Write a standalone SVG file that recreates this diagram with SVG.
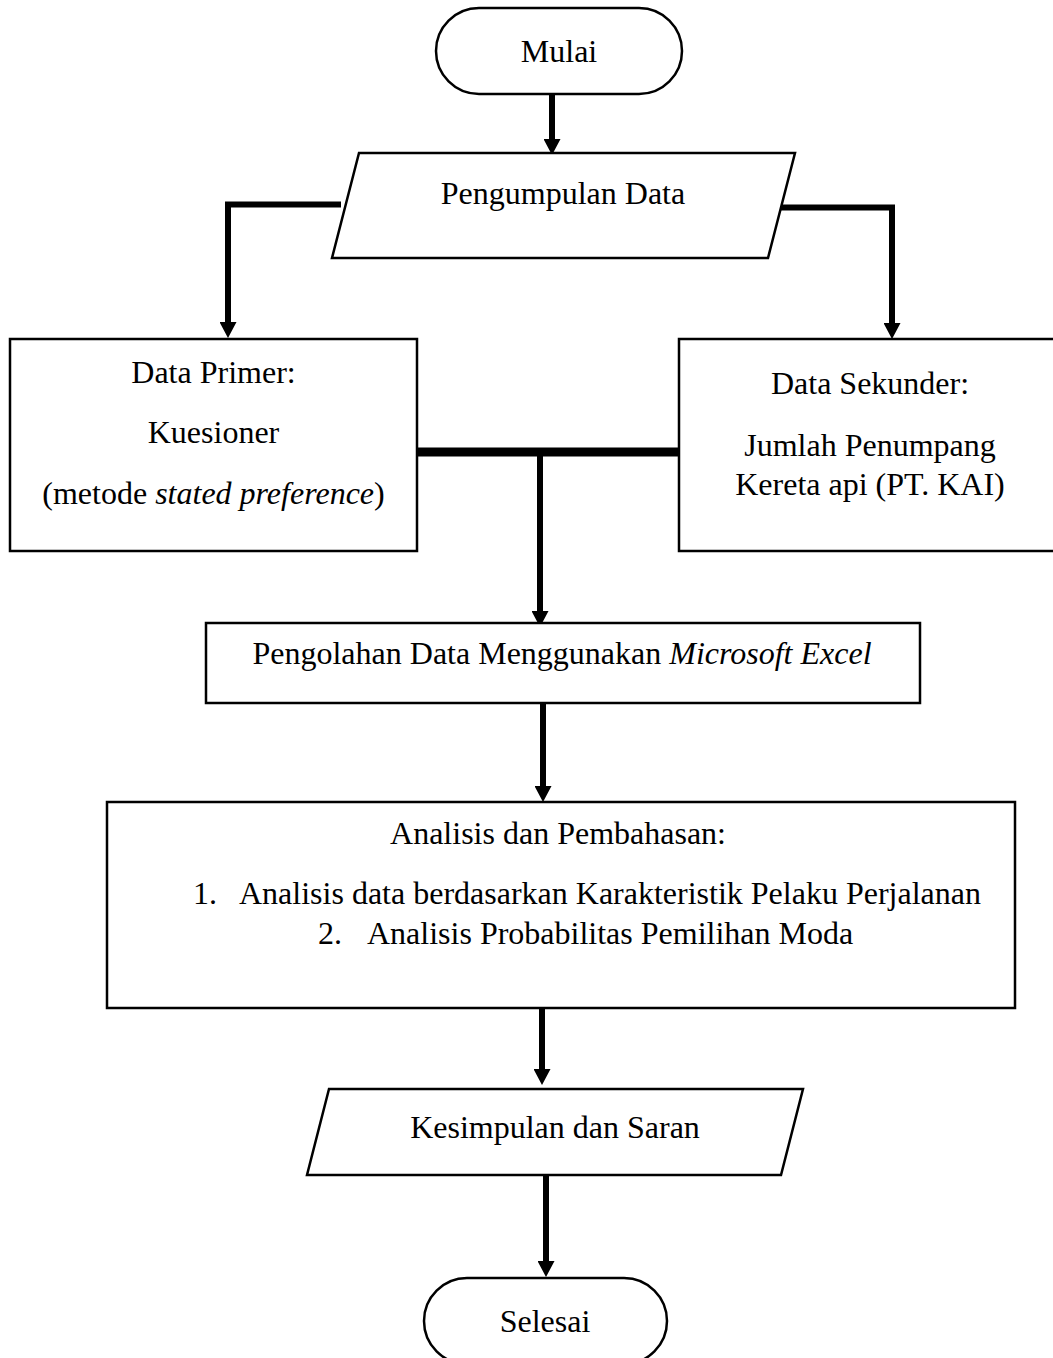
<svg xmlns="http://www.w3.org/2000/svg" width="1053" height="1358" viewBox="0 0 1053 1358">
<defs>
<style>
.box{fill:#fff;stroke:#000;stroke-width:2.5}
.t{font-family:"Liberation Serif","Times New Roman",serif;font-size:32px;fill:#000}
.m{text-anchor:middle}
.conn{fill:none;stroke:#000;stroke-width:6;stroke-linejoin:miter}
.bus{fill:none;stroke:#000;stroke-width:9}
</style>
<marker id="ah" viewBox="0 0 16 17" markerWidth="16" markerHeight="17" refX="2" refY="8.5" orient="auto" markerUnits="userSpaceOnUse">
<path d="M0,0 L16,8.5 L0,17 z" fill="#000"/>
</marker>
</defs>
<rect width="1053" height="1358" fill="#fff"/>

<g id="connectors">
<path class="conn" d="M552,94 V141" marker-end="url(#ah)"/>
<path class="conn" d="M341,204.5 H228 V324" marker-end="url(#ah)"/>
<path class="conn" d="M777,207.5 H892 V325" marker-end="url(#ah)"/>
<path class="bus" d="M417,452 H679"/>
<path class="conn" d="M540,452 V613" marker-end="url(#ah)"/>
<path class="conn" d="M543,697 V788" marker-end="url(#ah)"/>
<path class="conn" d="M542,1007 V1071" marker-end="url(#ah)"/>
<path class="conn" d="M546,1173 V1263" marker-end="url(#ah)"/>
</g>

<g id="mulai">
<rect class="box" x="436" y="8" width="246" height="86" rx="43" ry="43"/>
<text class="t m" x="559" y="62">Mulai</text>
</g>

<g id="pengumpulan">
<polygon class="box" points="359,153 795,153 768,258 332,258"/>
<text class="t m" x="563" y="204">Pengumpulan Data</text>
</g>

<g id="primer">
<rect class="box" x="10" y="339" width="407" height="212"/>
<text class="t m" x="213.5" y="383">Data Primer:</text>
<text class="t m" x="213.5" y="443">Kuesioner</text>
<text class="t m" x="213.5" y="504">(metode <tspan font-style="italic">stated preference</tspan>)</text>
</g>

<g id="sekunder">
<rect class="box" x="679" y="339" width="390" height="212"/>
<text class="t m" x="870" y="394">Data Sekunder:</text>
<text class="t m" x="870" y="456">Jumlah Penumpang</text>
<text class="t m" x="870" y="495">Kereta api (PT. KAI)</text>
</g>

<g id="pengolahan">
<rect class="box" x="206" y="623" width="714" height="80"/>
<text class="t m" x="562" y="664">Pengolahan Data Menggunakan <tspan font-style="italic">Microsoft Excel</tspan></text>
</g>

<g id="analisis">
<rect class="box" x="107" y="802" width="908" height="206"/>
<text class="t m" x="558" y="844">Analisis dan Pembahasan:</text>
<text class="t" x="193" y="904">1.</text>
<text class="t" x="239" y="904">Analisis data berdasarkan Karakteristik Pelaku Perjalanan</text>
<text class="t" x="318" y="944">2.</text>
<text class="t" x="367" y="944">Analisis Probabilitas Pemilihan Moda</text>
</g>

<g id="kesimpulan">
<polygon class="box" points="329,1089 803,1089 781,1175 307,1175"/>
<text class="t m" x="555" y="1138">Kesimpulan dan Saran</text>
</g>

<g id="selesai">
<rect class="box" x="424" y="1278" width="243" height="86" rx="43" ry="43"/>
<text class="t m" x="545" y="1332">Selesai</text>
</g>
</svg>
